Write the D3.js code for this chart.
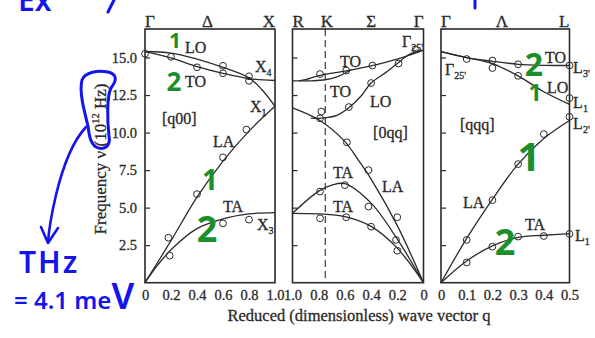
<!DOCTYPE html>
<html>
<head>
<meta charset="utf-8">
<script src="https://cdn.jsdelivr.net/npm/d3@7"></script>
<style>
  body { margin: 0; background: #fff; }
  svg { display: block; }
  .print text { stroke: #2a2a2a; stroke-width: 0.3px; }
</style>
</head>
<body>
<div id="chart"></div>
<script>
// ---- data: [q, frequency (10^12 Hz)] ----
// [q00]  Γ -> X
const q00LO = [[0, 15.4], [0.2, 15.3], [0.4, 14.9], [0.6, 14.35], [0.8, 13.65], [0.9, 12.85], [1.0, 11.75]];
const q00TO = [[0, 15.4], [0.2, 14.98], [0.4, 14.4], [0.6, 13.95], [0.8, 13.6], [1.0, 13.47]];
const q00LA = [[0, 0], [0.2, 2.8], [0.4, 5.7], [0.6, 8.1], [0.8, 10.1], [1.0, 11.75]];
const q00TA = [[0, 0], [0.1, 1.2], [0.2, 2.2], [0.4, 3.6], [0.6, 4.25], [0.8, 4.58], [1.0, 4.67]];
const q00Pts = [[0, 15.25], [0.2, 15.05], [0.4, 14.35], [0.6, 14.45], [0.6, 13.95], [0.8, 13.75], [0.8, 13.45],
  [0.18, 3.0], [0.4, 5.9], [0.6, 8.35], [0.78, 10.2], [0.19, 1.8], [0.6, 3.95], [0.8, 4.2]];

// [0qq]  R <- K <- Σ <- Γ  (q runs 1 -> 0)
const qq0TOa = [[0, 15.5], [0.2, 14.9], [0.4, 14.45], [0.6, 14.1], [0.8, 13.8], [0.9, 13.52], [0.95, 13.45]];
const qq0TOb = [[1.0, 13.45], [0.85, 13.45], [0.75, 13.52], [0.65, 13.75], [0.55, 14.2]];
const qq0LO = [[0, 15.5], [0.1, 15.25], [0.2, 14.6], [0.28, 14.05], [0.4, 13.3], [0.48, 12.4], [0.57, 11.65],
  [0.66, 11.15], [0.78, 10.96], [0.86, 10.96]];
const qq0LA = [[0, 0], [0.2, 3.8], [0.4, 6.9], [0.5, 8.2], [0.6, 9.4], [0.8, 10.85], [1.0, 11.65]];
const qq0TA2 = [[0, 0], [0.2, 2.9], [0.4, 5.3], [0.6, 6.6], [0.7, 6.5], [0.8, 6.1], [1.0, 4.62]];
const qq0TA1 = [[0, 0], [0.2, 2.3], [0.4, 3.75], [0.6, 4.4], [0.8, 4.58], [1.0, 4.62]];
const qq0Pts = [[0.06, 15.55], [0.19, 14.6], [0.39, 14.47], [0.59, 14.13], [0.79, 13.9], [0.4, 13.3], [0.57, 11.7],
  [0.78, 11.4], [0.79, 10.95], [0.585, 9.35], [0.42, 7.5], [0.2, 4.36], [0.79, 6.07], [0.6, 6.5], [0.42, 5.07],
  [0.21, 2.85], [0.79, 4.29], [0.59, 4.36], [0.4, 3.73], [0.2, 2.13]];

// [qqq]  Γ -> L
const qqqTO = [[0, 15.4], [0.1, 15.0], [0.2, 14.75], [0.3, 14.55], [0.4, 14.48], [0.5, 14.47]];
const qqqLO = [[0, 15.4], [0.1, 15.0], [0.2, 14.6], [0.3, 13.78], [0.4, 12.72], [0.5, 11.88]];
const qqqLA = [[0, 0], [0.1, 2.95], [0.2, 5.55], [0.3, 7.9], [0.4, 9.6], [0.5, 10.8]];
const qqqTA = [[0, 0], [0.1, 1.45], [0.2, 2.45], [0.3, 3.02], [0.4, 3.16], [0.5, 3.27]];
const qqqPts = [[0.1, 14.9], [0.2, 14.8], [0.2, 14.3], [0.3, 14.55], [0.3, 13.78], [0.5, 14.47], [0.5, 12.3],
  [0.5, 11.05], [0.4, 9.9], [0.3, 7.9], [0.2, 5.5], [0.1, 2.85], [0.1, 1.35], [0.2, 2.4], [0.3, 3.07],
  [0.4, 3.11], [0.5, 3.25]];

const yTicks = [2.5, 5.0, 7.5, 10.0, 12.5, 15.0];
const q00Ticks = [0, 0.2, 0.4, 0.6, 0.8, 1.0];
const qq0Ticks = [1.0, 0.8, 0.6, 0.4, 0.2, 0];
const qqqTicks = [0, 0.1, 0.2, 0.3, 0.4, 0.5];

// branch labels: [text, subscript, q, v]
const q00Labels = [["LO", "", 0.308, 15.3], ["TO", "", 0.308, 13.04], ["X", "4", 0.846, 14.04], ["X", "1", 0.808, 11.37],
  ["[q00]", "", 0.131, 10.57], ["LA", "", 0.523, 9.06], ["TA", "", 0.6, 4.73], ["X", "3", 0.862, 3.51]];
const qq0Labels = [["Γ", "25'", 0.164, 15.72], ["TO", "", 0.637, 14.39], ["TO", "", 0.714, 12.39], ["LO", "", 0.408, 11.72],
  ["[0qq]", "", 0.385, 9.64], ["TA", "", 0.691, 6.97], ["TA", "", 0.691, 4.73], ["LA", "", 0.317, 6.06]];
const qqqLabels = [["Γ", "25'", 0.016, 13.84], ["TO", "", 0.405, 14.64], ["LO", "", 0.412, 12.64], ["L", "3'", 0.514, 13.97],
  ["L", "1", 0.514, 11.64], ["L", "2'", 0.514, 10.24], ["[qqq]", "", 0.074, 10.17], ["LA", "", 0.0856, 4.98],
  ["TA", "", 0.327, 3.51], ["L", "1", 0.521, 2.78]];

// symmetry points on top: [text, q, anchor]
const q00Top = [["Γ", 0, "start"], ["Δ", 0.48, "middle"], ["X", 1, "end"]];
const qq0Top = [["R", 1, "start"], ["K", 0.737, "middle"], ["Σ", 0.4, "middle"], ["Γ", 0, "end"]];
const qqqTop = [["Γ", 0, "start"], ["Λ", 0.237, "middle"], ["L", 0.5, "end"]];

// ---- layout ----
const W = 595, H = 338;
const yTop = 29, yBottom = 282.7;
const ink = "#2a2a2a";
const serif = "'Liberation Serif', 'DejaVu Serif', serif";

const svg = d3.select("#chart").append("svg")
  .attr("width", W).attr("height", H)
  .attr("viewBox", [0, 0, W, H])
  .attr("font-family", serif);

const printed = svg.append("g").attr("class", "print");

const y = d3.scaleLinear([0, 16.9], [yBottom, yTop]);

const fmtQ = d => d === 0 ? "0" : d3.format(".1f")(d);
const panels = [
  {x0: 145, x1: 275, dom: [0, 1], ticks: q00Ticks, curves: [q00LO, q00TO, q00LA, q00TA], pts: q00Pts,
    labels: q00Labels, topLabels: q00Top},
  {x0: 292.5, x1: 423.5, dom: [1, 0], ticks: qq0Ticks, curves: [qq0TOa, qq0TOb, qq0LO, qq0LA, qq0TA2, qq0TA1], pts: qq0Pts,
    labels: qq0Labels, topLabels: qq0Top, dashed: 0.75},
  {x0: 441, x1: 569.5, dom: [0, 0.5], ticks: qqqTicks, curves: [qqqTO, qqqLO, qqqLA, qqqTA], pts: qqqPts,
    labels: qqqLabels, topLabels: qqqTop}
];

panels.forEach((p, i) => {
  const x = d3.scaleLinear(p.dom, [p.x0, p.x1]);
  const g = printed.append("g");

  // y ticks (inward), labels only on the first panel
  const yAxis = d3.axisLeft(y).tickValues(yTicks).tickSize(-5).tickPadding(8)
    .tickFormat(i === 0 ? d3.format(".1f") : "");
  g.append("g")
    .attr("transform", `translate(${p.x0},0)`)
    .call(yAxis)
    .call(a => a.select(".domain").remove())
    .call(a => a.selectAll("line").attr("stroke", ink).attr("stroke-width", 1.2))
    .call(a => a.selectAll("text").attr("font-family", serif).attr("font-size", 14.5).attr("fill", ink));

  // x tick labels
  g.append("g")
    .attr("transform", `translate(0,${yBottom})`)
    .call(d3.axisBottom(x).tickValues(p.ticks).tickSize(0).tickPadding(7).tickFormat(fmtQ))
    .call(a => a.select(".domain").remove())
    .call(a => a.selectAll("text").attr("font-family", serif).attr("font-size", 14.5).attr("fill", ink));

  if (p.dashed !== undefined) {
    g.append("line")
      .attr("x1", x(p.dashed)).attr("x2", x(p.dashed))
      .attr("y1", yTop).attr("y2", yBottom)
      .attr("stroke", ink).attr("stroke-width", 1.1).attr("stroke-dasharray", "7,4");
  }

  const line = d3.line().x(d => x(d[0])).y(d => y(d[1])).curve(d3.curveCatmullRom.alpha(0.5));
  g.append("g")
    .selectAll("path")
    .data(p.curves)
    .join("path")
    .attr("d", line)
    .attr("fill", "none")
    .attr("stroke", ink)
    .attr("stroke-width", 1.3);

  g.append("g")
    .selectAll("circle")
    .data(p.pts)
    .join("circle")
    .attr("cx", d => x(d[0]))
    .attr("cy", d => y(d[1]))
    .attr("r", 3.4)
    .attr("fill", "none")
    .attr("stroke", ink)
    .attr("stroke-width", 1);

  // frame
  g.append("rect")
    .attr("x", p.x0).attr("y", yTop)
    .attr("width", p.x1 - p.x0).attr("height", yBottom - yTop)
    .attr("fill", "none").attr("stroke", ink).attr("stroke-width", 1.6);

  // branch labels
  p.labels.forEach(([txt, sub, q, v]) => {
    const t = g.append("text")
      .attr("x", x(q)).attr("y", y(v))
      .attr("font-size", 16).attr("fill", ink);
    t.append("tspan").text(txt);
    if (sub) t.append("tspan").attr("font-size", 10).attr("dy", 4).text(sub);
  });

  // symmetry points
  g.append("g")
    .selectAll("text")
    .data(p.topLabels)
    .join("text")
    .attr("x", d => x(d[1]))
    .attr("y", 26.5)
    .attr("text-anchor", d => d[2])
    .attr("font-size", 17)
    .attr("fill", ink)
    .text(d => d[0]);
});

// axis titles
printed.append("text")
  .attr("x", 359).attr("y", 321)
  .attr("text-anchor", "middle")
  .attr("font-size", 16.5).attr("fill", ink)
  .text("Reduced (dimensionless) wave vector q");

const yt = printed.append("text")
  .attr("transform", "translate(106,159) rotate(-90)")
  .attr("text-anchor", "middle")
  .attr("font-size", 17).attr("fill", ink);
yt.append("tspan").text("Frequency ν (10");
yt.append("tspan").attr("font-size", 10.5).attr("dy", -7).text("12");
yt.append("tspan").attr("dy", 7).text(" Hz)");

// ---- hand-written notes ----
const blue = "#1414ee", green = "#1b8f2b";
const hand = "'Noto Sans', 'DejaVu Sans', sans-serif";

svg.append("path")
  .attr("d", "M88,126 C84,110 79,92 82,80 C85,72 98,70 108,72 C116,74 118,79 111,88 C107,96 107,118 109,136 C111,146 104,151 96,147 C90,143 89,134 88,126")
  .attr("fill", "none").attr("stroke", blue).attr("stroke-width", 3).attr("stroke-linecap", "round");
svg.append("path")
  .attr("d", "M86,127 C72,142 62,170 56,195 C52,212 49,228 48,242")
  .attr("fill", "none").attr("stroke", blue).attr("stroke-width", 2.6).attr("stroke-linecap", "round");
svg.append("path")
  .attr("d", "M41,227 L48,243 L58,228")
  .attr("fill", "none").attr("stroke", blue).attr("stroke-width", 2.6).attr("stroke-linecap", "round").attr("stroke-linejoin", "round");

svg.append("text")
  .attr("x", 19).attr("y", 273)
  .attr("font-family", hand).attr("font-size", 30).attr("font-weight", 600)
  .attr("letter-spacing", 2).attr("fill", blue)
  .text("THz");
const mev = svg.append("text")
  .attr("x", 14).attr("y", 309)
  .attr("font-family", hand).attr("font-weight", 600).attr("fill", blue);
mev.append("tspan").attr("font-size", 24).text("= 4.1 me");
mev.append("tspan").attr("font-size", 36).text("V");

svg.append("text")
  .attr("x", 18).attr("y", 11)
  .attr("font-family", hand).attr("font-size", 30).attr("font-weight", 600).attr("fill", blue)
  .text("Ex");
svg.append("path").attr("d", "M114,0 L108,12").attr("stroke", blue).attr("stroke-width", 3).attr("stroke-linecap", "round");
svg.append("path").attr("d", "M475,0 L475,8").attr("stroke", blue).attr("stroke-width", 3).attr("stroke-linecap", "round");

// green branch numbers: [text, x, y, size]
const greenNums = [["1", 175, 48, 21], ["2", 174, 91, 26], ["1", 210, 190, 28], ["2", 207, 242, 36],
  ["2", 534, 76, 32], ["1", 535, 101, 23], ["1", 529, 171, 40], ["2", 505, 255, 36]];
svg.append("g")
  .selectAll("text")
  .data(greenNums)
  .join("text")
  .attr("x", d => d[1]).attr("y", d => d[2])
  .attr("text-anchor", "middle")
  .attr("font-family", hand).attr("font-weight", 700)
  .attr("font-size", d => d[3])
  .attr("fill", green)
  .text(d => d[0]);
</script>
</body>
</html>
